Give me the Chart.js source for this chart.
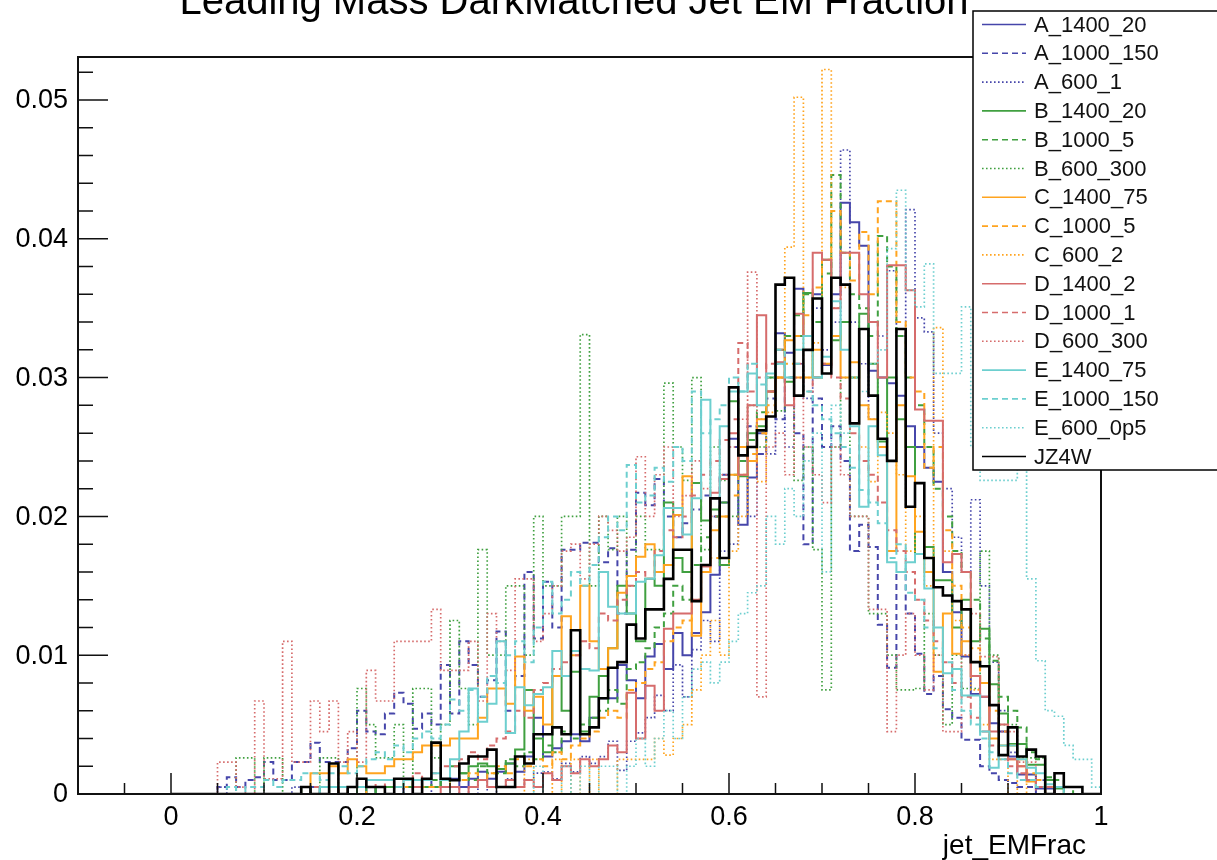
<!DOCTYPE html>
<html>
<head>
<meta charset="utf-8">
<title>jet_EMFrac</title>
<script src="https://cdn.jsdelivr.net/npm/chart.js@4.4.0/dist/chart.umd.min.js"></script>
<style>
  html, body { margin: 0; padding: 0; background: #fff; }
  #c { display: block; }
</style>
</head>
<body>
<canvas id="c" width="1217" height="860"></canvas>
<script>
// 100 bins of width 0.01 starting at 0.00; bin contents in units of 1e-4
const binLow = 0.0;
const binWidth = 0.01;
const UNIT = 1e-4;

const xTicks = [0, 0.2, 0.4, 0.6, 0.8, 1];
const yTicks = [0, 0.01, 0.02, 0.03, 0.04, 0.05];

const A_1400_20 = [
  0,0,0,0,0,0,0,0,0,0,
  0,0,0,0,0,5,0,0,5,0,
  5,0,5,5,5,0,5,10,5,10,
  11,5,11,16,11,16,22,16,27,55,
  27,33,38,43,38,55,69,69,93,82,
  69,99,108,90,116,100,116,131,158,210,
  256,194,228,260,290,332,318,364,361,360,
  309,360,426,412,395,305,300,296,287,265,
  250,235,225,160,131,99,72,70,51,45,
  27,14,14,4,4,0,0,0,0,0];
const A_1000_150 = [
  0,0,0,0,0,5,12,5,10,12,
  23,10,10,23,23,37,23,23,23,33,
  60,45,43,58,73,65,47,58,50,93,
  58,110,93,70,82,117,60,85,160,112,
  153,120,176,176,181,181,167,177,130,176,
  217,208,227,200,185,195,205,215,200,230,
  250,240,265,245,285,270,300,260,180,285,
  250,265,240,175,194,178,122,91,160,130,
  101,72,85,61,55,39,39,20,15,10,
  8,5,5,0,0,0,0,0,0,0];
const A_600_1 = [
  0,0,0,0,0,5,0,0,0,0,
  0,0,0,5,0,0,0,0,0,5,
  0,5,0,0,5,0,0,5,0,0,
  0,5,0,10,0,5,11,5,10,15,
  16,11,22,16,27,22,27,38,17,38,
  44,55,71,60,93,70,104,125,110,175,
  180,230,200,270,245,300,250,310,285,350,
  320,340,464,340,310,270,330,377,330,421,
  343,333,260,220,185,160,212,150,95,60,
  30,20,10,10,5,5,0,0,0,0];
const B_1400_20 = [
  0,0,0,0,0,0,0,0,0,0,
  0,0,0,0,0,0,5,0,0,0,
  5,0,5,5,5,5,10,5,5,10,
  20,15,20,22,20,18,22,32,75,40,
  30,85,60,88,45,70,85,105,150,130,
  110,155,150,210,170,160,224,197,205,165,
  283,229,260,265,300,320,297,330,361,300,
  385,327,340,300,346,310,254,300,270,250,
  173,178,154,154,120,140,110,119,79,58,
  36,36,21,21,10,4,0,0,0,0];
const B_1000_5 = [
  0,0,0,0,0,0,0,0,0,0,
  0,0,0,0,5,0,0,5,0,0,
  5,5,0,5,5,10,5,5,10,5,
  10,15,10,20,15,15,25,20,30,25,
  35,30,45,40,50,55,60,75,65,90,
  95,105,120,130,150,140,165,185,200,210,
  230,240,255,275,290,310,330,345,360,340,
  375,446,390,360,350,330,402,380,330,300,
  280,250,220,200,175,160,140,112,96,70,
  60,48,30,25,12,10,5,0,0,0];
const B_600_300 = [
  0,0,0,0,0,0,0,26,26,0,
  26,26,0,0,0,0,26,26,0,0,
  76,50,26,26,50,0,76,76,26,50,
  125,76,50,176,100,100,150,150,100,200,
  150,150,200,200,331,150,200,176,200,150,
  200,176,176,296,250,226,300,176,250,226,
  200,250,280,250,300,276,330,226,250,176,
  75,250,300,200,200,130,130,100,75,75,
  76,130,100,50,100,76,76,175,100,50,
  50,26,26,26,0,0,0,0,0,0];
const C_1400_75 = [
  0,0,0,0,0,0,0,0,0,0,
  0,0,0,0,0,15,15,20,15,25,
  20,15,15,20,25,25,30,35,35,35,
  40,40,40,55,76,76,65,99,60,70,
  50,85,128,100,150,110,90,105,145,157,
  171,180,160,165,201,229,114,160,190,200,
  230,250,240,270,290,300,327,300,300,320,
  310,330,300,311,280,270,250,175,280,229,
  189,160,88,130,101,110,85,80,40,35,
  25,20,9,5,0,0,0,0,0,0];
const C_1000_5 = [
  0,0,0,0,0,0,0,0,0,0,
  0,0,0,0,5,0,0,0,5,0,
  0,5,5,0,5,5,10,5,5,5,
  10,10,15,10,15,20,15,25,20,25,
  20,30,25,35,40,45,55,60,55,75,
  80,90,95,110,120,125,140,160,170,200,
  215,230,245,260,280,300,310,330,345,365,
  385,420,390,370,405,360,427,427,340,300,
  290,235,250,190,150,120,105,80,60,45,
  35,25,15,10,5,5,0,0,0,0];
const C_600_2 = [
  0,0,0,0,0,0,0,0,0,0,
  0,0,0,0,0,0,0,0,0,0,
  0,0,0,0,0,0,0,0,0,0,
  0,0,0,0,0,0,0,0,25,0,
  0,25,0,25,0,25,0,0,25,25,
  25,25,40,28,40,50,75,100,125,100,
  175,200,250,225,275,300,394,502,300,325,
  522,350,365,300,250,225,275,260,230,175,
  200,150,336,175,125,100,75,50,25,25,
  0,25,0,0,0,0,0,0,0,0];
const D_1400_2 = [
  0,0,0,0,0,0,0,0,0,0,
  0,0,0,0,0,0,0,0,0,0,
  0,0,0,0,0,0,5,0,0,5,
  5,0,5,10,5,5,10,5,10,5,
  15,10,20,15,25,20,25,35,30,73,
  40,78,60,119,130,130,140,164,217,227,
  260,230,280,345,290,311,280,346,330,390,
  385,350,390,390,360,340,300,381,381,363,
  277,269,269,167,173,160,85,70,45,50,
  25,20,10,5,0,0,0,0,0,0];
const D_1000_1 = [
  0,0,0,0,0,0,0,0,0,0,
  0,0,0,0,0,5,0,5,0,5,
  5,10,5,10,5,10,15,10,15,20,
  20,25,30,25,35,40,45,60,55,75,
  80,90,95,100,110,105,130,125,140,150,
  160,155,175,190,185,200,215,230,240,255,
  270,325,290,300,310,320,300,310,290,300,
  310,300,285,260,240,230,210,190,175,160,
  140,125,110,95,80,70,55,45,35,25,
  20,15,10,5,5,0,0,0,0,0];
const D_600_300 = [
  0,0,0,0,0,23,23,5,0,67,
  11,11,110,23,23,67,45,67,23,45,
  23,89,67,67,110,110,110,110,133,89,
  89,89,110,67,130,110,89,155,155,110,
  130,150,175,180,155,180,200,190,175,185,
  243,200,230,250,200,215,240,220,200,230,
  250,270,376,70,250,260,230,300,250,230,
  210,250,230,200,200,133,133,45,100,130,
  100,75,100,45,45,100,130,99,99,45,
  45,23,23,0,0,0,0,0,0,0];
const E_1400_75 = [
  0,0,0,0,0,0,0,0,0,0,
  0,0,0,0,5,0,5,5,5,5,
  5,10,10,10,5,10,10,10,15,10,
  25,45,76,52,65,110,44,77,64,72,
  77,103,85,103,90,89,160,135,130,130,
  153,155,172,206,206,187,213,284,213,265,
  290,290,303,280,303,310,300,320,330,300,
  315,355,320,265,207,265,244,167,160,167,
  173,148,120,87,90,71,71,45,19,35,
  35,25,19,15,7,5,0,0,0,0];
const E_1000_150 = [
  0,0,0,0,0,0,5,0,5,5,
  10,5,10,10,15,15,10,15,20,15,
  20,25,30,25,35,30,40,45,40,50,
  68,60,75,70,85,80,100,110,95,120,
  153,130,140,160,150,165,185,200,190,237,
  210,215,235,225,250,240,290,260,270,280,
  300,290,310,295,300,320,300,310,290,280,
  270,260,250,235,219,210,195,170,180,145,
  140,120,105,95,75,60,50,40,30,25,
  15,10,10,5,0,0,0,0,0,0];
const E_600_0p5 = [
  0,0,0,0,0,0,0,0,0,0,
  0,0,0,0,0,0,0,0,0,0,
  0,0,0,0,0,0,0,0,0,0,
  0,0,0,0,0,0,0,0,0,20,
  0,0,20,0,20,0,20,20,0,20,
  40,20,40,60,40,70,90,95,80,95,
  110,130,145,150,200,180,220,200,240,260,
  160,280,260,300,290,310,320,393,435,363,
  351,382,303,303,303,351,250,226,226,226,
  226,241,155,96,60,56,35,25,25,5];
const JZ4W = [
  0,0,0,0,0,0,0,0,0,0,
  0,0,0,0,5,0,0,22,0,5,
  11,5,5,0,11,11,0,11,37,11,
  10,22,27,27,32,5,5,27,22,43,
  43,48,43,118,43,48,69,91,95,122,
  112,133,133,155,176,176,139,165,213,170,
  293,244,250,262,272,367,372,287,320,357,
  303,372,367,267,335,287,256,240,335,207,
  224,170,149,143,139,133,95,92,64,28,
  48,27,32,27,0,15,5,5,0,0];

const names = ['A_1400_20', 'A_1000_150', 'A_600_1',
               'B_1400_20', 'B_1000_5', 'B_600_300',
               'C_1400_75', 'C_1000_5', 'C_600_2',
               'D_1400_2', 'D_1000_1', 'D_600_300',
               'E_1400_75', 'E_1000_150', 'E_600_0p5',
               'JZ4W'];
const contents = [A_1400_20, A_1000_150, A_600_1,
                  B_1400_20, B_1000_5, B_600_300,
                  C_1400_75, C_1000_5, C_600_2,
                  D_1400_2, D_1000_1, D_600_300,
                  E_1400_75, E_1000_150, E_600_0p5,
                  JZ4W];

const navy = '#4646aa', green = '#40a040', orange = '#ffa41f', rose = '#d66c6c', teal = '#6dcfcf';
const colors = [navy, navy, navy, green, green, green, orange, orange, orange,
                rose, rose, rose, teal, teal, teal, '#000000'];
const styles = ['solid', 'dashed', 'dotted', 'solid', 'dashed', 'dotted', 'solid', 'dashed', 'dotted',
                'solid', 'dashed', 'dotted', 'solid', 'dashed', 'dotted', 'solid'];
const dashes = { solid: [], dashed: [6, 4], dotted: [1.6, 2.4] };

// one point per lower bin edge, closed at the upper edge of the last bin
function histPoints(vals) {
  const pts = vals.map((v, i) => ({ x: binLow + i * binWidth, y: v * UNIT }));
  pts.push({ x: binLow + vals.length * binWidth, y: 0 });
  return pts;
}

const datasets = names.map((name, i) => ({
  label: name,
  data: histPoints(contents[i]),
  borderColor: colors[i],
  borderWidth: name === 'JZ4W' ? 2.6 : (styles[i] === 'dotted' ? 1.7 : 2),
  borderDash: dashes[styles[i]],
  borderCapStyle: 'butt',
  borderJoinStyle: 'miter',
  stepped: true,
  pointRadius: 0,
  fill: false,
  order: names.length - 1 - i
}));

const FONT = '"Liberation Sans", Arial, Helvetica, sans-serif';

// ROOT-like frame: inward ticks, labels, title, legend box
const rootFrame = {
  id: 'rootFrame',
  afterDatasetsDraw(chart) {
    const ctx = chart.ctx;
    const a = chart.chartArea;
    const xs = chart.scales.x, ys = chart.scales.y;
    ctx.save();
    ctx.setLineDash([]);
    ctx.strokeStyle = '#111';

    // y ticks: major 0.01, minor 0.002
    ctx.lineWidth = 1.5;
    ctx.beginPath();
    for (let k = 0; k * 0.002 <= ys.max + 1e-9; k++) {
      const py = ys.getPixelForValue(k * 0.002);
      const len = k % 5 === 0 ? 30 : 15;
      ctx.moveTo(a.left, py);
      ctx.lineTo(a.left + len, py);
    }
    // x ticks: major 0.2, minor 0.05
    for (let k = -2; k * 0.05 <= xs.max + 1e-9; k++) {
      const px = xs.getPixelForValue(k * 0.05);
      const len = k % 4 === 0 ? 21 : 11;
      ctx.moveTo(px, a.bottom);
      ctx.lineTo(px, a.bottom - len);
    }
    ctx.stroke();

    ctx.lineWidth = 2;
    ctx.strokeRect(a.left, a.top, a.right - a.left, a.bottom - a.top);

    // tick labels
    ctx.fillStyle = '#000';
    ctx.font = '27px ' + FONT;
    ctx.textAlign = 'right';
    ctx.textBaseline = 'middle';
    yTicks.forEach(v => ctx.fillText(String(v), a.left - 10, ys.getPixelForValue(v) + 1));
    ctx.textAlign = 'center';
    ctx.textBaseline = 'alphabetic';
    xTicks.forEach(v => ctx.fillText(String(v), xs.getPixelForValue(v), a.bottom + 31));

    // axis title
    ctx.font = '28px ' + FONT;
    ctx.textAlign = 'right';
    ctx.fillText('jet_EMFrac', a.right - 15, 854);

    // histogram title, mostly above the canvas
    ctx.font = '40px ' + FONT;
    ctx.textAlign = 'center';
    ctx.fillText('Leading Mass DarkMatched Jet EM Fraction', 574, 14);

    // legend
    const lx = 973, ly = 11, lw = 260, lh = 459;
    ctx.fillStyle = '#fff';
    ctx.fillRect(lx, ly, lw, lh);
    ctx.lineWidth = 1.5;
    ctx.strokeStyle = '#000';
    ctx.strokeRect(lx, ly, lw, lh);
    ctx.font = '22px ' + FONT;
    ctx.textAlign = 'left';
    ctx.textBaseline = 'middle';
    chart.data.datasets.forEach((ds, i) => {
      const y = 24.5 + i * 28.8;
      ctx.strokeStyle = ds.borderColor;
      ctx.lineWidth = 1.6;
      ctx.setLineDash(ds.borderDash);
      ctx.beginPath();
      ctx.moveTo(982, y);
      ctx.lineTo(1026, y);
      ctx.stroke();
      ctx.fillStyle = '#111';
      ctx.fillText(ds.label, 1034, y + 1);
    });
    ctx.restore();
  }
};

new Chart(document.getElementById('c').getContext('2d'), {
  type: 'line',
  data: { datasets: datasets },
  options: {
    responsive: false,
    animation: false,
    devicePixelRatio: 1,
    layout: { padding: { left: 78, right: 116, top: 57, bottom: 66 } },
    scales: {
      x: { type: 'linear', min: -0.1, max: 1.0, display: false },
      y: { type: 'linear', min: 0, max: 0.0531, display: false }
    },
    plugins: {
      legend: { display: false },
      title: { display: false },
      tooltip: { enabled: false }
    }
  },
  plugins: [rootFrame]
});
</script>
</body>
</html>
